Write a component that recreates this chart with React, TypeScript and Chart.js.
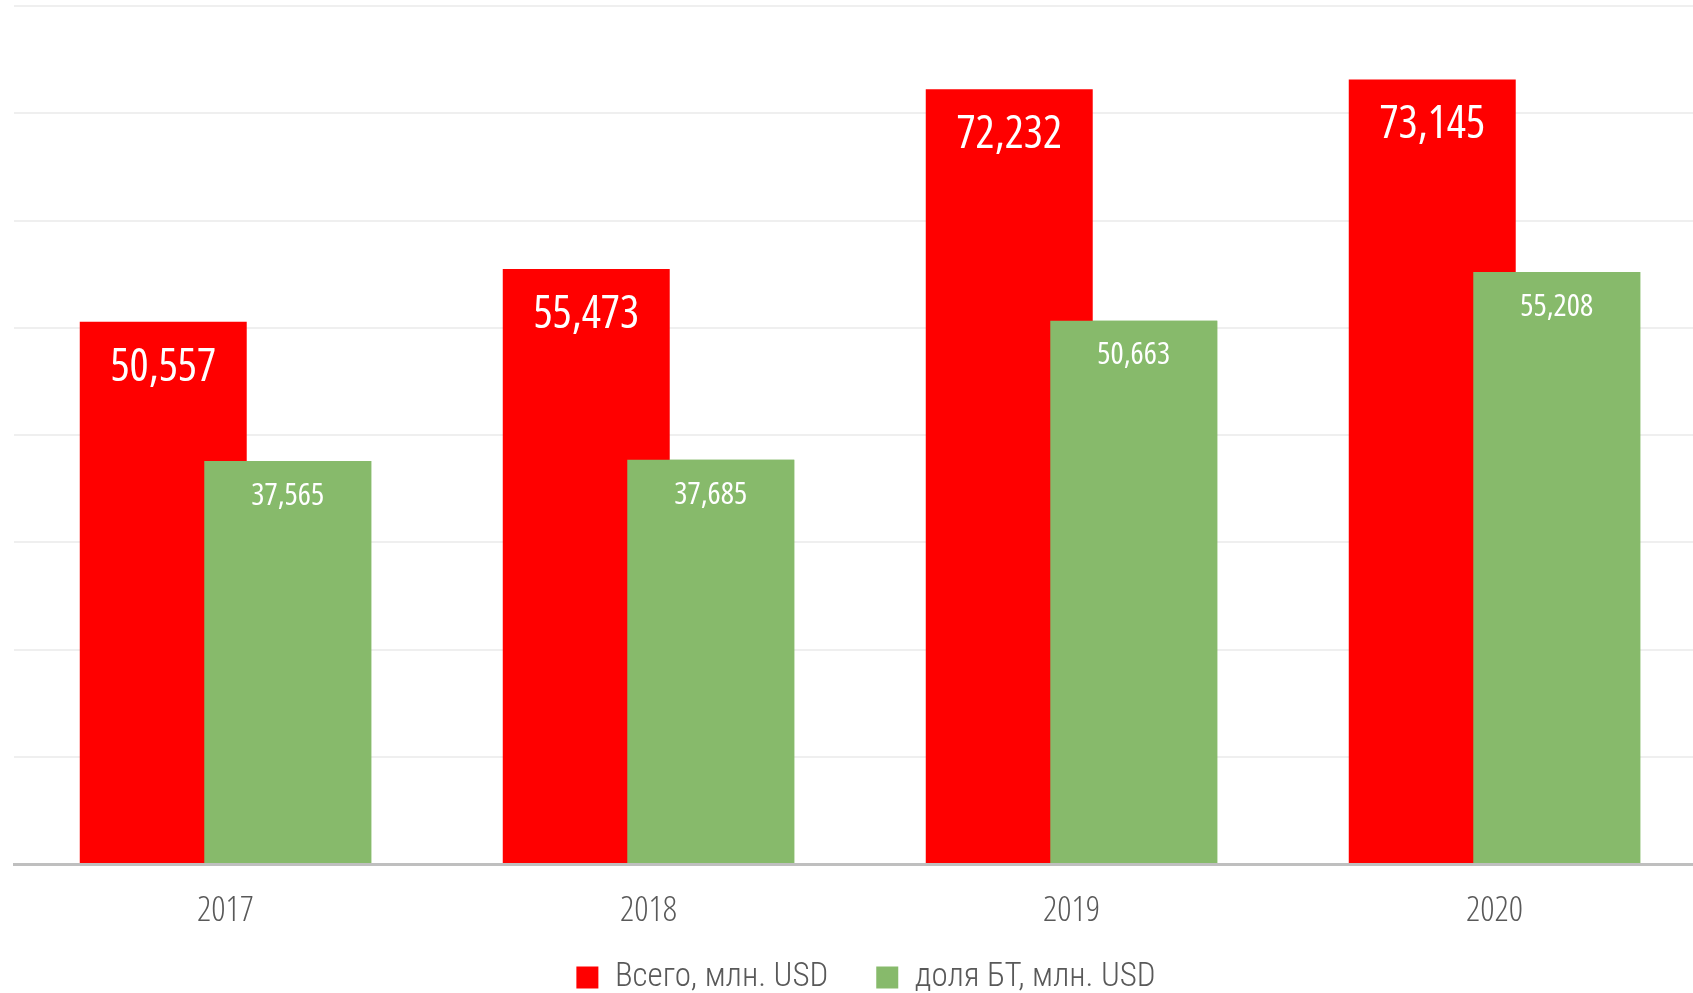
import React, { useEffect, useRef } from "react";
import { Chart, registerables } from "chart.js";

Chart.register(...registerables);

const categories = ["2017", "2018", "2019", "2020"];
const totalValues = [50557, 55473, 72232, 73145];
const btValues = [37565, 37685, 50663, 55208];
const seriesNames = ["Всего, млн. USD", "доля БТ, млн. USD"];

const FAMILY = '"Open Sans", "DejaVu Sans Condensed", sans-serif';
const LEGEND_FAMILY = '"Roboto Condensed", "Open Sans", "DejaVu Sans Condensed", sans-serif';

const fmt = (v: number) => v.toLocaleString("en-US");

const labelPlugin = {
  id: "barLabels",
  afterLayout(chart: any) {
    const lg = chart.legend;
    if (lg) {
      lg.left += 6;
      lg.right += 6;
      lg.top -= 45;
      lg.bottom -= 45;
    }
  },
  afterDatasetsDraw(chart: any) {
    const ctx = chart.ctx;
    // keep the second series in front of the first (overlapping bars)
    chart.getDatasetMeta(1).data.forEach((el: any) => el.draw(ctx));
    ctx.save();
    ctx.fillStyle = "#ffffff";
    ctx.textAlign = "center";
    ctx.textBaseline = "middle";
    chart.data.datasets.forEach((ds: any, di: number) => {
      const meta = chart.getDatasetMeta(di);
      const size = di === 0 ? 45 : 31;
      const off = di === 0 ? 46 : 35;
      ctx.font = `normal 400 condensed ${size}px ${FAMILY}`;
      meta.data.forEach((el: any, i: number) => {
        ctx.fillText(fmt(ds.data[i]), el.x, el.y + off);
      });
    });
    ctx.restore();
  },
};

export default function App() {
  const ref = useRef<HTMLCanvasElement>(null);
  useEffect(() => {
    document.body.style.margin = "0";
    const chart = new Chart(ref.current!, {
      type: "bar",
      data: {
        labels: categories,
        datasets: [
          {
            label: seriesNames[0],
            data: totalValues,
            backgroundColor: "#ff0000",
            barPercentage: 1.341,
            categoryPercentage: 0.5887,
          },
          {
            label: seriesNames[1],
            data: btValues,
            backgroundColor: "#87ba6b",
            barPercentage: 1.341,
            categoryPercentage: 0.5887,
          },
        ],
      },
      options: {
        responsive: false,
        animation: false,
        layout: { padding: { left: 14, right: 2, top: 6, bottom: 0 } },
        plugins: {
          tooltip: { enabled: false },
          legend: {
            position: "bottom",
            labels: {
              boxWidth: 22,
              boxHeight: 22,
              padding: 48,
              color: "#595959",
              font: { family: LEGEND_FAMILY, size: 33, weight: 300 },
            },
          },
        },
        scales: {
          x: {
            grid: { display: false, drawTicks: false },
            border: { color: "#bfbfbf", width: 3 },
            ticks: {
              color: "#595959",
              font: { family: FAMILY, size: 35, weight: "300 condensed" as any },
              padding: 26,
            },
          },
          y: {
            min: 0,
            max: 80000,
            ticks: { display: false, stepSize: 10000 },
            border: { display: false },
            grid: { color: "#efefef", lineWidth: 2, drawTicks: false },
          },
        },
      },
      plugins: [labelPlugin],
    });
    return () => chart.destroy();
  }, []);
  return (
    <div style={{ position: "absolute", left: 0, top: 0, width: 1693, height: 993, overflow: "hidden", background: "#fff" }}>
      <canvas ref={ref} width={1708} height={1049} style={{ display: "block" }} />
    </div>
  );
}
